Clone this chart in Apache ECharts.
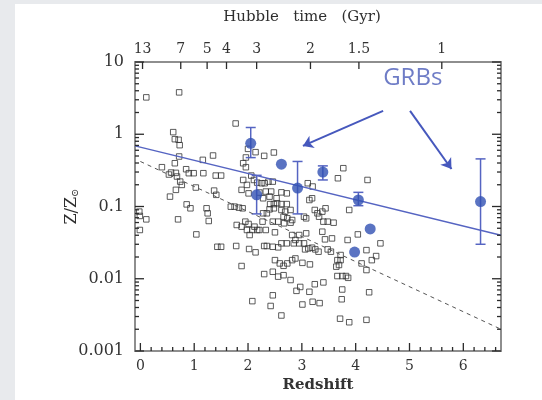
<!DOCTYPE html>
<html>
<head>
<meta charset="utf-8">
<script src="https://cdn.jsdelivr.net/npm/echarts@6/dist/echarts.min.js"></script>
<style>
html, body { margin: 0; padding: 0; background: #fff; }
#chart { width: 542px; height: 400px; }
</style>
</head>
<body>
<div id="chart"></div>
<script>
// axis ranges and tick labels
const zRange = [-0.1, 6.7];
const metalRange = [0.001, 10];
const redshiftTicks = [0, 1, 2, 3, 4, 5, 6];
const hubbleLabels = ['13', '7', '5', '4', '3', '2', '1.5', '1'];
const hubbleZ = [0.04, 0.75, 1.24, 1.60, 2.16, 3.16, 4.06, 5.60];
const metalTicks = [0.001, 0.01, 0.1, 1, 10];

// galaxies (open squares): [redshift, Z/Zsun]
const galaxies = [
  [0.11, 3.24], [0.72, 3.80], [1.77, 1.41], [0.61, 1.07], [0.64, 0.855], [0.71, 0.838], [0.73, 0.706],
  [0.72, 0.492], [0.64, 0.397], [0.40, 0.350], [0.53, 0.277], [0.57, 0.295], [0.66, 0.292], [0.68, 0.260],
  [0.74, 0.221], [0.85, 0.328], [0.90, 0.289], [0.99, 0.289], [1.17, 0.289], [1.16, 0.442], [1.35, 0.508],
  [1.40, 0.268], [1.50, 0.268], [0.55, 0.137], [0.66, 0.170], [0.77, 0.199], [1.03, 0.183], [1.37, 0.166],
  [1.41, 0.145], [0.86, 0.107], [0.93, 0.0944], [1.23, 0.0944], [1.25, 0.0805], [1.27, 0.0630], [0.70, 0.0664],
  [1.04, 0.0411], [-0.02, 0.0849], [-0.01, 0.0740], [0.11, 0.0664], [-0.01, 0.0473], [1.43, 0.0277], [1.50, 0.0277],
  [1.78, 0.0284], [1.88, 0.0150], [1.68, 0.0995], [1.75, 0.0995], [1.83, 0.0964], [1.90, 0.0944], [1.79, 0.0555],
  [1.88, 0.0526], [1.95, 0.0617], [2.01, 0.0573], [1.98, 0.0473], [2.08, 0.0473], [2.17, 0.0473], [2.03, 0.0403],
  [2.02, 0.0258], [2.14, 0.0232], [2.30, 0.0284], [2.35, 0.0284], [1.88, 0.170], [1.91, 0.233], [1.98, 0.199],
  [1.91, 0.397], [1.96, 0.350], [1.96, 0.477], [2.00, 0.628], [2.14, 0.565], [2.30, 0.502], [2.48, 0.559],
  [2.06, 0.268], [2.11, 0.233], [2.17, 0.214], [2.25, 0.210], [2.31, 0.210], [2.38, 0.221], [2.46, 0.221],
  [2.01, 0.152], [2.21, 0.156], [2.33, 0.161], [2.43, 0.161], [2.28, 0.130], [2.40, 0.137], [2.53, 0.130],
  [2.62, 0.157], [2.72, 0.152], [2.41, 0.108], [2.48, 0.108], [2.54, 0.111], [2.62, 0.108], [2.72, 0.108],
  [2.28, 0.0805], [2.35, 0.0805], [2.40, 0.0914], [2.48, 0.0944], [2.62, 0.0895], [2.69, 0.0849], [2.79, 0.0895],
  [2.66, 0.0723], [2.73, 0.0686], [2.82, 0.0650], [2.27, 0.0617], [2.46, 0.0617], [2.56, 0.0617], [2.67, 0.0585],
  [2.79, 0.0597], [2.12, 0.0526], [2.21, 0.0473], [2.33, 0.0473], [2.50, 0.0439], [2.56, 0.0272], [2.62, 0.0309],
  [2.72, 0.0309], [2.85, 0.0309], [2.95, 0.0309], [3.04, 0.0309], [2.46, 0.0277], [2.82, 0.0403], [2.95, 0.0403],
  [3.08, 0.0425], [2.88, 0.0344], [3.11, 0.210], [3.20, 0.189], [3.14, 0.123], [3.19, 0.130], [3.24, 0.0895],
  [3.29, 0.0805], [3.32, 0.0723], [3.38, 0.0849], [3.44, 0.0944], [3.04, 0.0723], [3.08, 0.0686], [3.40, 0.0617],
  [3.48, 0.0617], [3.59, 0.0597], [3.38, 0.0448], [3.43, 0.0351], [3.56, 0.0362], [3.06, 0.0255], [3.12, 0.0263],
  [3.19, 0.0269], [3.25, 0.0255], [3.31, 0.0237], [3.48, 0.0255], [3.54, 0.0237], [3.67, 0.246], [3.77, 0.339],
  [3.88, 0.0895], [3.85, 0.0344], [4.04, 0.0411], [4.22, 0.233], [4.46, 0.0309], [4.20, 0.0249], [4.30, 0.0181],
  [4.38, 0.0206], [4.11, 0.0163], [4.20, 0.0132], [3.66, 0.0181], [3.72, 0.0181], [3.64, 0.0147], [3.69, 0.0155],
  [3.72, 0.0213], [3.66, 0.0109], [3.75, 0.0109], [3.82, 0.0109], [3.86, 0.0103], [3.75, 0.0071], [4.25, 0.0065],
  [3.74, 0.0052], [3.71, 0.0028], [3.88, 0.0025], [4.20, 0.0027], [2.50, 0.0181], [2.59, 0.0163], [2.66, 0.0151],
  [2.73, 0.0163], [2.82, 0.0181], [2.88, 0.0191], [3.01, 0.0166], [3.15, 0.0158], [2.46, 0.0125], [2.56, 0.0107],
  [2.66, 0.0112], [2.30, 0.0116], [2.79, 0.0096], [2.97, 0.0077], [2.90, 0.0068], [3.14, 0.0066], [3.24, 0.0084],
  [3.40, 0.0089], [2.08, 0.0049], [2.42, 0.0042], [2.62, 0.0031], [3.01, 0.0044], [3.20, 0.0048], [3.33, 0.0046],
  [2.46, 0.0059]
];

// GRB hosts (filled circles)
const grbPoints = [
  [2.05, 0.75], [2.62, 0.385], [2.92, 0.18], [2.16, 0.145], [3.39, 0.30],
  [4.05, 0.123], [6.32, 0.117], [4.27, 0.049], [3.98, 0.0234]
];
// error bars: [redshift, low, high]
const grbErrors = [
  [2.05, 0.475, 1.24], [2.92, 0.079, 0.42], [2.16, 0.079, 0.27],
  [3.39, 0.233, 0.365], [4.05, 0.1026, 0.157], [6.32, 0.030, 0.456]
];

// fit lines, read at their ends
const grbFit = [[-0.1, 0.69], [6.7, 0.040]];
const galaxyFit = [[0, 0.42], [6.7, 0.002]];

// arrows from the GRBs note
const arrows = [
  [[4.51, 2.11], [3.02, 0.69]],
  [[5.01, 2.11], [5.78, 0.33]]
];
const grbNote = [[5.06, 6.05]];

// minor ticks
const zMinor = [];
for (let i = 1; i <= 33; i++) {
  if (i % 5 !== 0) zMinor.push(+(i * 0.2).toFixed(1));
}
const logMinor = [];
for (let d = -3; d <= 0; d++) {
  for (let m = 2; m <= 9; m++) logMinor.push(+(m * Math.pow(10, d)).toPrecision(3));
}

const frameColor = '#8e8e8e';
const tickColor = '#2a2a2a';
const blue = '#3150b3';
const lightBlue = '#5564c2';
const serif = 'DejaVu Serif';

const errorBars = (params, api) => {
  const lo = api.coord([api.value(0), api.value(1)]);
  const hi = api.coord([api.value(0), api.value(2)]);
  const w = 5;
  const st = { stroke: lightBlue, lineWidth: 1.5 };
  return {
    type: 'group',
    children: [
      { type: 'line', shape: { x1: lo[0], y1: lo[1], x2: hi[0], y2: hi[1] }, style: st },
      { type: 'line', shape: { x1: lo[0] - w, y1: lo[1], x2: lo[0] + w, y2: lo[1] }, style: st },
      { type: 'line', shape: { x1: hi[0] - w, y1: hi[1], x2: hi[0] + w, y2: hi[1] }, style: st }
    ]
  };
};

// tick marks, one custom series per side and length
const tickRender = (side, len) => (params, api) => {
  const p = api.coord([api.value(0), api.value(1)]);
  let shape;
  if (side === 'bottom') shape = { x1: p[0], y1: p[1], x2: p[0], y2: p[1] - len };
  else if (side === 'top') shape = { x1: p[0], y1: p[1], x2: p[0], y2: p[1] + len };
  else if (side === 'left') shape = { x1: p[0], y1: p[1], x2: p[0] + len, y2: p[1] };
  else shape = { x1: p[0], y1: p[1], x2: p[0] - len, y2: p[1] };
  return {
    type: 'group',
    children: [{ type: 'line', shape: shape, style: { stroke: tickColor, lineWidth: 1.3 } }]
  };
};
const tickSeries = (values, side, len) => ({
  type: 'custom',
  data: values.map(v => side === 'bottom' ? [v, metalRange[0]] : side === 'top' ? [v, metalRange[1]]
    : side === 'left' ? [zRange[0], v] : [zRange[1], v]),
  renderItem: tickRender(side, len),
  encode: { x: 0, y: 1 },
  silent: true,
  z: 6
});

const chart = echarts.init(document.getElementById('chart'));
chart.setOption({
  animation: false,
  backgroundColor: '#fff',
  graphic: [
    { type: 'rect', left: 0, top: 0, shape: { width: 15, height: 400 }, style: { fill: '#e8eaed' }, z: -10 },
    { type: 'rect', left: 0, top: 0, shape: { width: 542, height: 4 }, style: { fill: '#e8eaed' }, z: -10 }
  ],
  grid: { left: 135, right: 41, top: 62, bottom: 49 },
  xAxis: [
    {
      type: 'value', min: zRange[0], max: zRange[1], position: 'bottom',
      splitLine: { show: false },
      name: 'Redshift',
      nameLocation: 'middle',
      nameGap: 24,
      nameTextStyle: { fontFamily: serif, fontSize: 15, fontWeight: 'bold', color: '#333' },
      axisLine: { onZero: false, lineStyle: { color: frameColor, width: 2 } },
      axisTick: { show: false },
      axisLabel: { customValues: redshiftTicks, margin: 8, fontFamily: serif, fontSize: 14, color: '#333' }
    },
    {
      type: 'value', min: zRange[0], max: zRange[1], position: 'top',
      splitLine: { show: false },
      name: 'Hubble   time   (Gyr)',
      nameLocation: 'middle',
      nameGap: 37,
      nameTextStyle: { fontFamily: serif, fontSize: 15, color: '#2e2e2e', padding: [0, 32, 0, 0] },
      axisLine: { onZero: false, lineStyle: { color: frameColor, width: 2 } },
      axisTick: { show: false },
      axisLabel: {
        customValues: hubbleZ, margin: 6, fontFamily: serif, fontSize: 14, color: '#333',
        formatter: (v) => {
          let best = 0;
          hubbleZ.forEach((z, i) => { if (Math.abs(z - v) < Math.abs(hubbleZ[best] - v)) best = i; });
          return hubbleLabels[best];
        }
      }
    }
  ],
  yAxis: [
    {
      type: 'log', logBase: 10, min: metalRange[0], max: metalRange[1], position: 'left',
      splitLine: { show: false },
      name: 'Z/Z{s|⊙}',
      nameLocation: 'middle',
      nameRotate: 90,
      nameGap: 55,
      nameMoveOverlap: false,
      nameTextStyle: {
        fontFamily: serif, fontSize: 16, color: '#2e2e2e',
        rich: { s: { fontFamily: serif, fontSize: 10, color: '#2e2e2e', padding: [7, 0, 0, 0] } }
      },
      axisLine: { onZero: false, lineStyle: { color: frameColor, width: 2 } },
      axisTick: { show: false },
      axisLabel: { customValues: metalTicks, margin: 11, fontFamily: serif, fontSize: 16, color: '#333',
        formatter: (v) => String(+v.toPrecision(3)) }
    },
    {
      type: 'log', logBase: 10, min: metalRange[0], max: metalRange[1], position: 'right',
      splitLine: { show: false },
      axisLine: { onZero: false, lineStyle: { color: frameColor, width: 2 } },
      axisTick: { show: false },
      axisLabel: { show: false }
    }
  ],
  series: [
    {
      type: 'line',
      data: galaxyFit,
      symbol: 'none',
      silent: true,
      lineStyle: { color: '#555', width: 1, type: [4, 4] }
    },
    {
      type: 'scatter',
      data: galaxies,
      symbol: 'rect',
      symbolSize: 5.5,
      silent: true,
      itemStyle: { color: 'rgba(255,255,255,0)', borderColor: '#333', borderWidth: 1 }
    },
    {
      type: 'line',
      data: grbFit,
      symbol: 'none',
      silent: true,
      lineStyle: { color: lightBlue, width: 1.5 },
      markLine: {
        silent: true,
        symbol: ['none', 'arrow'],
        symbolSize: 10,
        label: { show: false },
        lineStyle: { color: '#4658bd', width: 2, type: 'solid' },
        data: arrows.map(a => [{ coord: a[0] }, { coord: a[1] }])
      }
    },
    {
      type: 'custom',
      data: grbErrors,
      renderItem: errorBars,
      encode: { x: 0, y: [1, 2] },
      silent: true,
      z: 3
    },
    {
      type: 'scatter',
      data: grbPoints,
      symbol: 'circle',
      symbolSize: 11,
      silent: true,
      itemStyle: { color: blue },
      z: 4
    },
    {
      type: 'scatter',
      data: grbNote,
      symbolSize: 0,
      silent: true,
      label: {
        show: true, position: 'inside', formatter: 'GRBs',
        fontFamily: 'Open Sans', fontSize: 24, color: '#4a5bb8'
      }
    },
    tickSeries(redshiftTicks, 'bottom', 8),
    tickSeries(zMinor, 'bottom', 4),
    tickSeries(hubbleZ, 'top', 7),
    tickSeries(metalTicks, 'left', 9),
    tickSeries(logMinor, 'left', 4),
    tickSeries(metalTicks, 'right', 9),
    tickSeries(logMinor, 'right', 4)
  ]
});
</script>
</body>
</html>
